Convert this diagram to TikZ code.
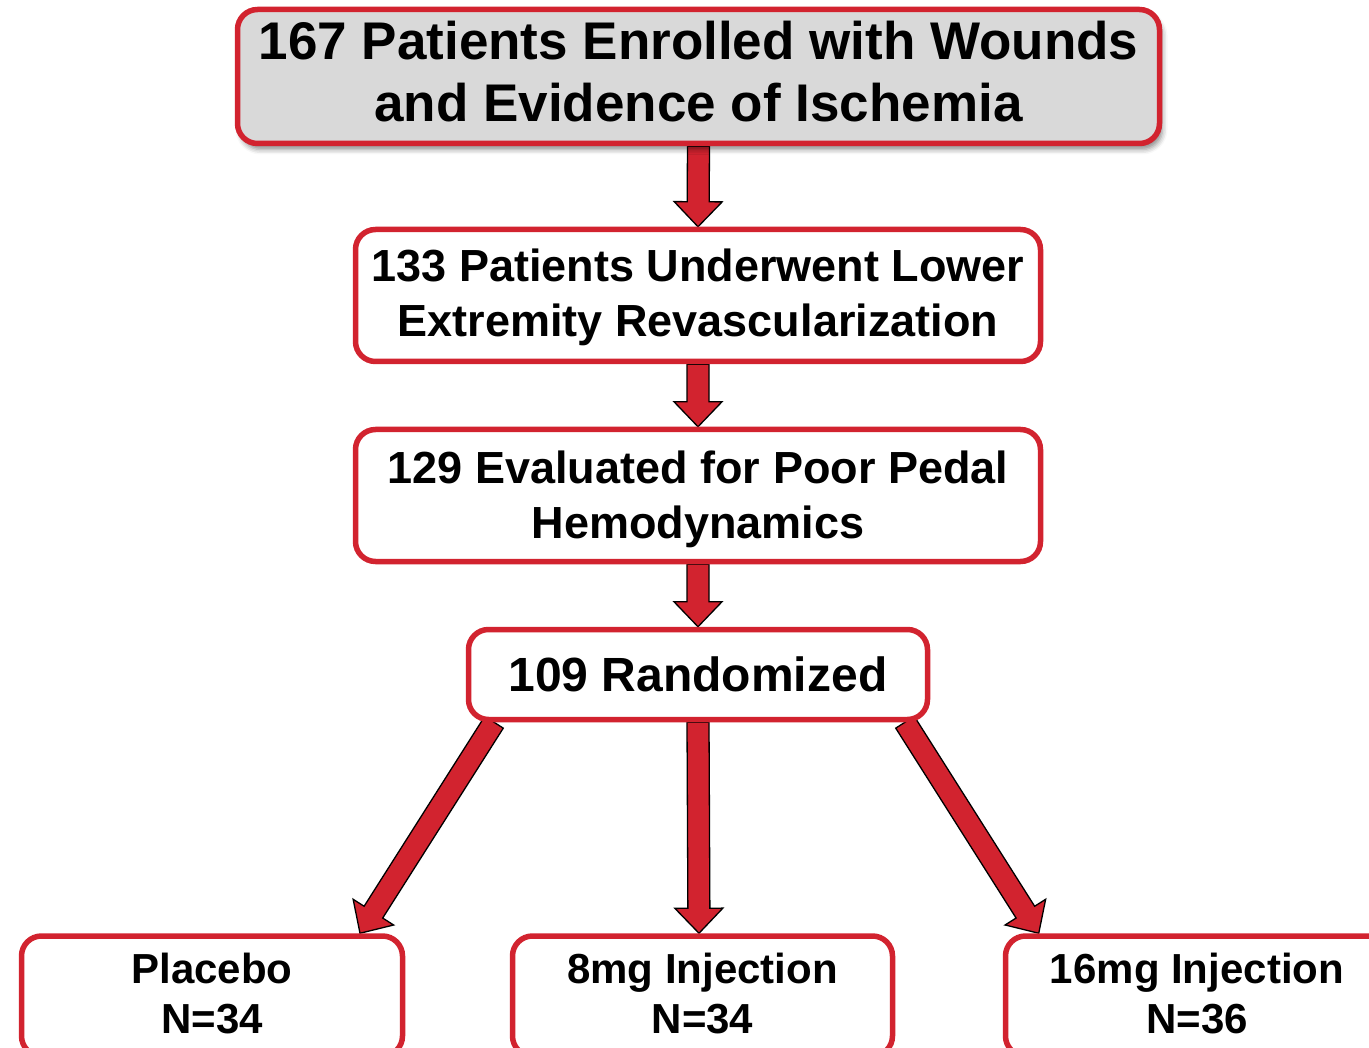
\documentclass[tikz,border=0pt]{standalone}
\usepackage{fontspec}
\setmainfont{Liberation Sans}
\usetikzlibrary{calc,shadows.blur,backgrounds}
\definecolor{cred}{HTML}{D2232F}
\definecolor{cgray}{HTML}{D9D9D9}
\tikzset{
  box/.style={draw=cred, line width=5.5pt, rounded corners=20pt, fill=white,
    align=center, inner sep=0pt, font=\bfseries},
  barrow/.style={fill=cred, draw=black, line width=1.3pt, line join=miter},
}
\newcommand\txtshift[3]{\raisebox{#1}[\height][\depth]{\parbox{#2}{\centering #3}}}
\newcommand\blockarrow[2]{%
  \path coordinate (hh) at ($(#2)!25pt!(#1)$);
  \path[barrow] ($(#1)!11pt!90:(#2)$) -- ($(hh)!11pt!90:(#2)$) -- ($(hh)!24pt!90:(#2)$)
    -- (#2) -- ($(hh)!24pt!-90:(#2)$) -- ($(hh)!11pt!-90:(#2)$) -- ($(#1)!11pt!-90:(#2)$) -- cycle;
}
\begin{document}
\begin{tikzpicture}[x=1pt,y=-1pt]
\useasboundingbox (0,0) rectangle (1369,1048);
% boxes
\node[box, fill=cgray, minimum width=922pt, minimum height=134pt,
  blur shadow={shadow xshift=3pt, shadow yshift=-6pt, shadow blur radius=5pt, shadow opacity=45},
  font=\bfseries\fontsize{53}{62}\selectfont] (top) at (698.5,76.5)
  {\txtshift{5pt}{900pt}{167 Patients Enrolled with Wounds\\and Evidence of Ischemia}};
\node[box, minimum width=685pt, minimum height=132pt,
  font=\bfseries\fontsize{45}{55}\selectfont] (b2) at (698,295.5)
  {\txtshift{-2pt}{680pt}{133 Patients Underwent Lower\\Extremity Revascularization}};
\node[box, minimum width=685pt, minimum height=132pt,
  font=\bfseries\fontsize{45}{55}\selectfont] (b3) at (698,495.5)
  {\txtshift{-4pt}{680pt}{129 Evaluated for Poor Pedal\\Hemodynamics}};
\node[box, minimum width=459pt, minimum height=90pt,
  font=\bfseries\fontsize{48}{56}\selectfont] (rand) at (698,674.5)
  {109 Randomized};
\node[box, minimum width=381pt, minimum height=120pt,
  font=\bfseries\fontsize{42}{50}\selectfont] (plac) at (212,996)
  {\txtshift{2pt}{370pt}{Placebo\\N=34}};
\node[box, minimum width=380pt, minimum height=120pt,
  font=\bfseries\fontsize{42}{50}\selectfont] (inj8) at (702.5,996)
  {\txtshift{2pt}{370pt}{8mg Injection\\N=34}};
\node[box, minimum width=383pt, minimum height=120pt,
  font=\bfseries\fontsize{42}{50}\selectfont] (inj16) at (1197,996)
  {\txtshift{2pt}{370pt}{16mg Injection\\N=36}};
% arrows, behind the boxes
\begin{scope}[on background layer]
\blockarrow{top.south}{b2.north}
\blockarrow{b2.south}{b3.north}
\blockarrow{b3.south}{rand.north}
\blockarrow{$(rand.south)+(-204,0)$}{$(plac.north)+(148,0)$}
\blockarrow{rand.south}{$(rand.south |- inj8.north)+(1,0)$}
\blockarrow{$(rand.south)+(207,0)$}{$(inj16.north west)+(36,0)$}
\end{scope}
\end{tikzpicture}
\end{document}
